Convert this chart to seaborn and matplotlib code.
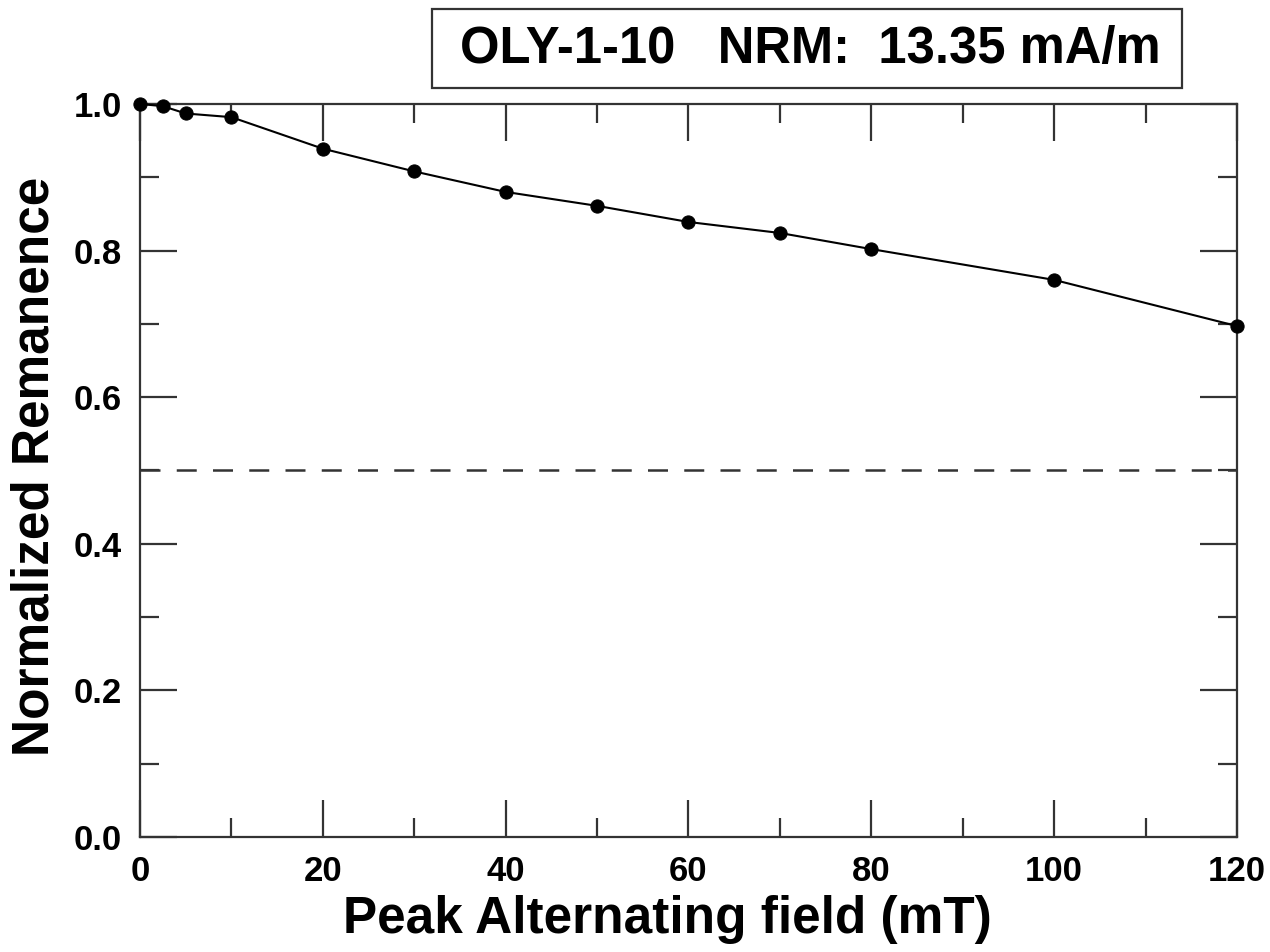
import numpy as np
import pandas as pd
import seaborn as sns
import matplotlib.pyplot as plt
from matplotlib.patches import Rectangle
from matplotlib.ticker import MultipleLocator

# AF demagnetization steps (mT) and normalized remanence
field_mT = [0, 2.5, 5, 10, 20, 30, 40, 50, 60, 70, 80, 100, 120]
remanence = [1.0, 0.997, 0.987, 0.982, 0.939, 0.908, 0.880, 0.861, 0.839, 0.824, 0.802, 0.760, 0.697]
mdf_level = 0.5
sample_title = "OLY-1-10   NRM:  13.35 mA/m"

df = pd.DataFrame({"field": field_mT, "rem": remanence})

sns.set_style("ticks")
plt.rcParams['font.family'] = ['Liberation Sans', 'DejaVu Sans']
plt.rcParams['font.weight'] = 'bold'
plt.rcParams['text.color'] = 'black'
plt.rcParams['axes.labelcolor'] = 'black'
plt.rcParams['xtick.labelcolor'] = 'black'
plt.rcParams['ytick.labelcolor'] = 'black'

fig = plt.figure(figsize=(12.7, 9.52), dpi=100)
ax = fig.add_axes([0.1102, 0.1208, 0.8638, 0.77])

ax.axhline(mdf_level, color="#333333", lw=1.8, ls=(0, (8, 6.5)), zorder=1)
sns.lineplot(data=df, x="field", y="rem", ax=ax, color="black", lw=1.5,
             marker="o", markersize=9.5, markeredgecolor="black", zorder=3,
             clip_on=False)

ax.set_xlim(0, 120)
ax.set_ylim(0, 1.0)
ax.xaxis.set_major_locator(MultipleLocator(20))
ax.xaxis.set_minor_locator(MultipleLocator(10))
ax.yaxis.set_major_locator(MultipleLocator(0.2))
ax.yaxis.set_minor_locator(MultipleLocator(0.1))
ax.yaxis.set_major_formatter(plt.FuncFormatter(lambda v, p: f"{v:.1f}"))

for s in ax.spines.values():
    s.set_linewidth(1.6)
    s.set_color("#333333")
    s.set_visible(True)
    s.set_zorder(2)
ax.tick_params(which="both", direction="in", top=True, right=True, width=1.6, color="#333333")
ax.tick_params(which="major", length=26.5, labelsize=25, pad=13)
ax.tick_params(which="minor", length=13.5)
for lab in ax.get_xticklabels() + ax.get_yticklabels():
    lab.set_fontweight("bold")

ax.set_xlabel("Peak Alternating field (mT)", fontsize=37, fontweight="bold", va="center")
ax.set_ylabel("Normalized Remanence", fontsize=37, fontweight="bold", va="center")
ax.xaxis.set_label_coords(0.5 + (667 - 688) / 1097, -0.1132)
ax.yaxis.set_label_coords(-0.0957, 0.5 - (466 - 470) / 733)

# sample name / NRM box above the plot
fig.patches.append(Rectangle((432 / 1270, 1 - 88 / 952), 750 / 1270, 79 / 952,
                             transform=fig.transFigure, fc="white", ec="#333333", lw=1.6))
fig.text(810 / 1270, 1 - 50 / 952, sample_title, ha="center", va="center",
         fontsize=36.5, fontweight="bold")

fig.savefig("out.png", dpi=100)
